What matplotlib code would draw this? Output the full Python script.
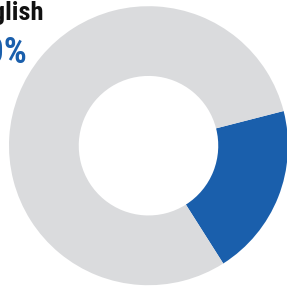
import matplotlib.pyplot as plt

# Donut share data
labels = ["English", "Other"]
shares = [20, 80]
colors = ["#1a5fac", "#dadbdd"]
title_label = "English"
title_value = "20%"

W = H = 287
fig = plt.figure(figsize=(W / 100, H / 100), dpi=100)

# axes placed so the ring is centred at (148.5, 145.7) px with radius 139.5 px
r_px = 139.5
cx, cy = 148.5, H - 145.7
ax = fig.add_axes([(cx - r_px) / W, (cy - r_px) / H, 2 * r_px / W, 2 * r_px / H])
ax.pie(shares, colors=colors, startangle=14.4, counterclock=False, radius=1,
       wedgeprops=dict(width=0.5, linewidth=0))
ax.set_xlim(-1, 1)
ax.set_ylim(-1, 1)
ax.set_aspect("equal")
ax.axis("off")

font = ["Roboto Condensed", "Open Sans Condensed", "Roboto"]
fig.text(44 / W, 1 - 20 / H, title_label, ha="right", va="baseline",
         fontsize=19, fontweight="bold", color="#111111", family=font)
fig.text(28 / W, 1 - 63 / H, title_value, ha="right", va="baseline",
         fontsize=26, fontweight="bold", color=colors[0], family=font)

fig.savefig("out.png", dpi=100)
